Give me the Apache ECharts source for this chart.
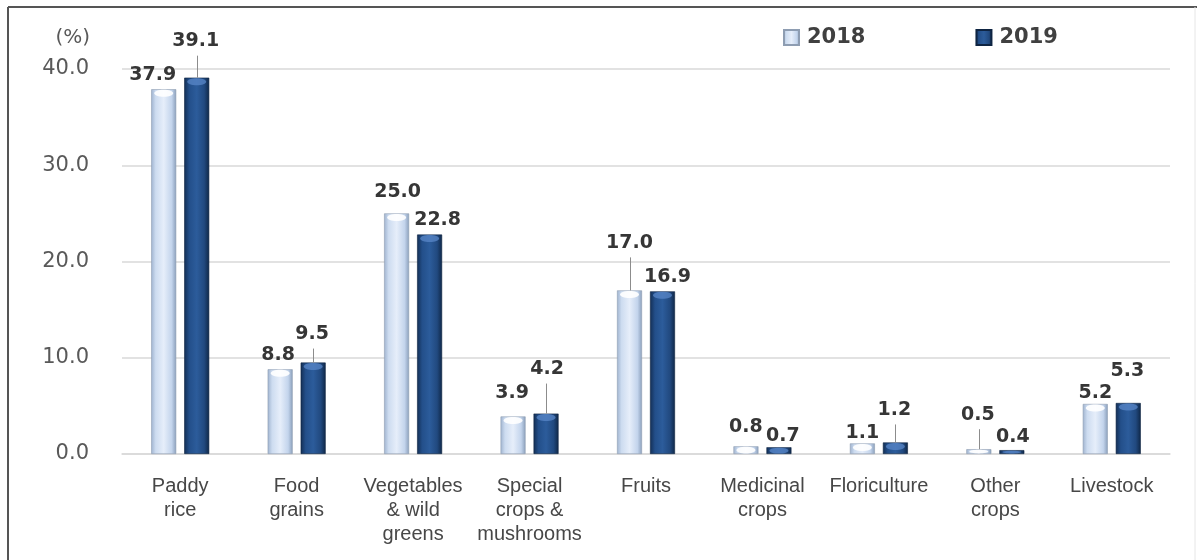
<!DOCTYPE html>
<html><head><meta charset="utf-8">
<script src="https://cdn.jsdelivr.net/npm/echarts@6/dist/echarts.min.js"></script>
<style>html,body{margin:0;padding:0;background:#fff}#c{width:1197px;height:560px}</style>
</head><body><div id="c"></div>
<script>
// ---- data ----
const categories = ['Paddy\nrice', 'Food\ngrains', 'Vegetables\n& wild\ngreens', 'Special\ncrops &\nmushrooms', 'Fruits', 'Medicinal\ncrops', 'Floriculture', 'Other\ncrops', 'Livestock'];
const seriesNames = ['2018', '2019'];
const values2018 = [37.9, 8.8, 25.0, 3.9, 17.0, 0.8, 1.1, 0.5, 5.2];
const values2019 = [39.1, 9.5, 22.8, 4.2, 16.9, 0.7, 1.2, 0.4, 5.3];
const yTicks = [0, 10, 20, 30, 40];

// ---- layout (label nudges in px, leader flags) ----
const nudge2018 = [[-11, 0], [-2, 0], [1, -7], [-1, -9], [0, -33], [0, -5], [0, 4], [-1, -20], [0, 4]];
const nudge2019 = [[-1, -22], [-1, -14], [8, 0], [1, -30], [5, 0], [4, 3], [-1, -18], [1, 1], [-1, -17]];
const leader2018 = [0, 0, 0, 0, 1, 0, 0, 1, 0];
const leader2019 = [1, 1, 0, 1, 0, 0, 1, 0, 0];
const BAR_W = 25, BAR_GAP = 8;
const HALF = (BAR_W + BAR_GAP) / 2;

const grad2018 = new echarts.graphic.LinearGradient(0, 0, 1, 0, [
  {offset: 0, color: '#9fb3cf'}, {offset: 0.18, color: '#cddcf0'},
  {offset: 0.5, color: '#e6eefa'}, {offset: 0.82, color: '#c3d4ec'}, {offset: 1, color: '#8a9fbb'}
]);
const grad2019 = new echarts.graphic.LinearGradient(0, 0, 1, 0, [
  {offset: 0, color: '#132e54'}, {offset: 0.2, color: '#234f8a'},
  {offset: 0.5, color: '#2c5c9b'}, {offset: 0.8, color: '#21497f'}, {offset: 1, color: '#0f2747'}
]);

function barData(vals, nudges) {
  return vals.map((v, i) => ({value: v, label: {offset: nudges[i]}}));
}
function leaderData(vals, nudges, flags, sign) {
  const out = [];
  vals.forEach((v, i) => { if (flags[i]) out.push([i, v, sign, -nudges[i][1]]); });
  return out;
}
function capData(vals, sign) { return vals.map((v, i) => [i, v, sign]); }

const labelStyle = {
  show: true, position: 'top', distance: 5,
  fontFamily: 'DejaVu Sans', fontWeight: 'bold', fontSize: 19, color: '#363636',
  formatter: p => p.value.toFixed(1)
};

const chart = echarts.init(document.getElementById('c'), null, {renderer: 'canvas'});
chart.setOption({
  animation: false,
  backgroundColor: '#fff',
  grid: {left: 122, right: 27, top: 69, bottom: 106},
  legend: {
    data: seriesNames, left: 778, top: 22, itemWidth: 15, itemHeight: 15, itemGap: 110,
    icon: 'rect',
    textStyle: {fontFamily: 'DejaVu Sans', fontWeight: 'bold', fontSize: 21, color: '#404040', padding: [0, 0, 0, 3]}
  },
  xAxis: {
    type: 'category', data: categories,
    axisLine: {show: true, lineStyle: {color: '#d9d9d9', width: 1.5}},
    axisTick: {show: false},
    axisLabel: {interval: 0, margin: 20, fontFamily: 'Liberation Sans', fontSize: 20, lineHeight: 24, color: '#474747'}
  },
  yAxis: {
    type: 'value', min: yTicks[0], max: yTicks[yTicks.length - 1], interval: 10,
    name: '(%)', nameLocation: 'end', nameGap: 31,
    nameTextStyle: {fontFamily: 'DejaVu Sans', fontSize: 20, color: '#595959', align: 'right', verticalAlign: 'middle', padding: [0, 32, 0, 0]},
    axisLine: {show: false}, axisTick: {show: false},
    splitLine: {lineStyle: {color: '#d9d9d9', width: 1.5}},
    axisLabel: {margin: 33, fontFamily: 'DejaVu Sans', fontSize: 21, color: '#595959', formatter: v => v.toFixed(1)}
  },
  graphic: [
    {type: 'line', shape: {x1: 8, y1: 7, x2: 1197, y2: 7}, style: {stroke: '#555', lineWidth: 2}, z: 100},
    {type: 'line', shape: {x1: 8, y1: 7, x2: 8, y2: 560}, style: {stroke: '#555', lineWidth: 2}, z: 100},
    {type: 'line', shape: {x1: 1195, y1: 7, x2: 1195, y2: 560}, style: {stroke: '#e6e6e6', lineWidth: 1}, z: 100}
  ],
  series: [
    {
      name: seriesNames[0], type: 'bar', barWidth: BAR_W, barGap: (BAR_GAP / BAR_W * 100) + '%',
      data: barData(values2018, nudge2018),
      itemStyle: {color: grad2018, borderColor: '#8e9db2', borderWidth: 0.6},
      label: labelStyle, z: 2
    },
    {
      name: seriesNames[1], type: 'bar', barWidth: BAR_W,
      data: barData(values2019, nudge2019),
      itemStyle: {color: grad2019, borderColor: '#0e2442', borderWidth: 0.6},
      label: labelStyle, z: 2
    },
    {
      type: 'custom', name: 'caps', silent: true, z: 3,
      data: capData(values2018, -1).concat(capData(values2019, 1)),
      renderItem: function (params, api) {
        const p = api.coord([api.value(0), api.value(1)]);
        const base = api.coord([api.value(0), 0]);
        const sign = api.value(2);
        const h = base[1] - p[1];
        const ry = Math.max(0.8, Math.min(3.5, h / 2 - 0.5));
        const x = p[0] + sign * HALF;
        return {
          type: 'ellipse',
          shape: {cx: x, cy: p[1] + ry + 0.5, rx: BAR_W / 2 - 3, ry: ry},
          style: {fill: sign < 0 ? 'rgba(255,255,255,0.9)' : 'rgba(90,135,200,0.75)'}
        };
      }
    },
    {
      type: 'custom', name: 'leaders', silent: true, z: 4,
      data: leaderData(values2018, nudge2018, leader2018, -1).concat(leaderData(values2019, nudge2019, leader2019, 1)),
      renderItem: function (params, api) {
        const p = api.coord([api.value(0), api.value(1)]);
        const x = Math.round(p[0] + api.value(2) * HALF) + 0.5;
        const len = api.value(3);
        return {
          type: 'line',
          shape: {x1: x, y1: p[1], x2: x, y2: p[1] - len},
          style: {stroke: '#8c8c8c', lineWidth: 1}
        };
      }
    }
  ]
});
</script>
</body></html>
